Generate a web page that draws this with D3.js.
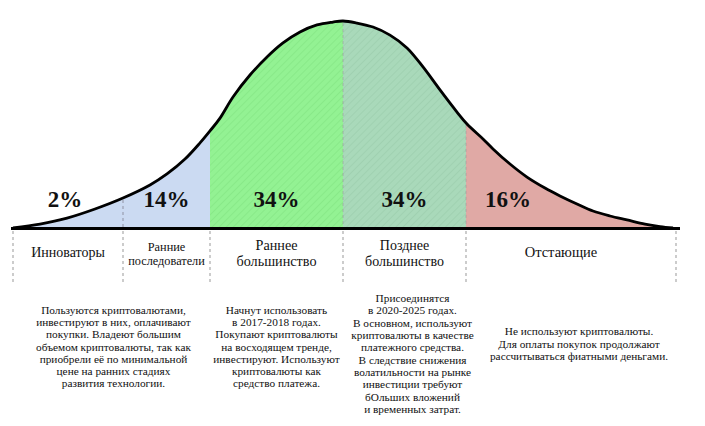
<!DOCTYPE html>
<html>
<head>
<meta charset="utf-8">
<script src="https://cdn.jsdelivr.net/npm/d3@7/dist/d3.min.js"></script>
<style>
  html, body { margin: 0; padding: 0; background: #ffffff; }
  svg { display: block; }
  text { font-family: "Liberation Serif", "Times New Roman", serif; fill: #111; }
</style>
</head>
<body>
<svg id="chart" width="705" height="426"></svg>
<script>
// ---- data ----
const categories = ["Инноваторы", "Ранние последователи", "Раннее большинство", "Позднее большинство", "Отстающие"];
const shares = [2, 14, 34, 34, 16];
const shareLabels = ["2%", "14%", "34%", "34%", "16%"];
// segment boundaries along the adoption axis (axis units 0..672)
const boundaries = [0, 110, 197, 330, 453, 663];
// bell curve: position along axis, relative height (peak = 100)
const curvePos = [0, 27, 54, 82, 110, 137, 154, 172, 187, 197, 207, 220, 237, 254, 270, 287, 304, 320, 330, 344, 360, 377, 394, 410, 427, 444, 454, 470, 480, 497, 514, 532, 547, 564, 580, 597, 614, 632, 647, 660];
const curveVal = [0, 1.9, 4.8, 9.2, 14.5, 20.8, 26.1, 33.3, 41.1, 46.9, 53.1, 63.3, 73.9, 82.6, 89.4, 94.7, 98.1, 99.5, 100, 99.0, 97.1, 93.2, 87.0, 77.8, 66.7, 56.0, 50.2, 43.0, 38.2, 30.9, 24.6, 19.3, 15.5, 11.6, 8.2, 5.8, 3.9, 1.9, 0.7, 0];
const categoryLines = [["Инноваторы"], ["Ранние", "последователи"], ["Раннее", "большинство"], ["Позднее", "большинство"], ["Отстающие"]];
const descriptions = [
  ["Пользуются криптовалютами,", "инвестируют в них, оплачивают", "покупки. Владеют большим", "объемом криптовалюты, так как", "приобрели её по минимальной", "цене на ранних стадиях", "развития технологии."],
  ["Начнут использовать", "в 2017-2018 годах.", "Покупают криптовалюты", "на восходящем тренде,", "инвестируют. Используют", "криптовалюты как", "средство платежа."],
  ["Присоединятся", "в 2020-2025 годах.", "В основном, используют", "криптовалюты в качестве", "платежного средства.", "В следствие снижения", "волатильности на рынке", "инвестиции требуют", "бОльших вложений", "и временных затрат."],
  ["Не используют криптовалюты.", "Для оплаты покупок продолжают", "рассчитываться фиатными деньгами."]
];

// ---- drawing ----
const svg = d3.select("#chart");
const x = d3.scaleLinear().domain([0, 672]).range([13, 685]);
const y = d3.scaleLinear().domain([0, 100]).range([228, 21]);
const pts = curvePos.map((p, i) => [p, curveVal[i]]);

const defs = svg.append("defs");
function hatch(id, bg, line) {
  const p = defs.append("pattern").attr("id", id).attr("patternUnits", "userSpaceOnUse")
    .attr("width", 5).attr("height", 5).attr("patternTransform", "rotate(45)");
  p.append("rect").attr("width", 5).attr("height", 5).attr("fill", bg);
  p.append("line").attr("x1", 0).attr("y1", 0).attr("x2", 0).attr("y2", 5)
    .attr("stroke", line).attr("stroke-width", 1.5);
}
hatch("hatchGreen", "#93f293", "#86e686");
hatch("hatchTeal", "#a9d9ba", "#9dcfae");

const segFill = ["#cbdaf2", "#cbdaf2", "url(#hatchGreen)", "url(#hatchTeal)", "#e0a9a5"];
boundaries.slice(0, -1).forEach((b, i) => {
  defs.append("clipPath").attr("id", "clip" + i)
    .append("rect").attr("x", x(b)).attr("y", 0)
    .attr("width", x(boundaries[i + 1]) - x(b)).attr("height", 240);
});

const area = d3.area().x(d => x(d[0])).y0(y(0)).y1(d => y(d[1])).curve(d3.curveCatmullRom);
const line = d3.line().x(d => x(d[0])).y(d => y(d[1])).curve(d3.curveCatmullRom);

shares.forEach((s, i) => {
  svg.append("path").datum(pts).attr("d", area)
    .attr("fill", segFill[i]).attr("clip-path", `url(#clip${i})`);
});

// inner dashed dividers
const inner = [1, 3, 4];
inner.forEach(i => {
  const b = boundaries[i];
  const k = d3.bisector(d => d[0]).left(pts, b);
  const p0 = pts[Math.max(0, k - 1)], p1 = pts[k];
  const v = p0[1] + (p1[1] - p0[1]) * ((b - p0[0]) / ((p1[0] - p0[0]) || 1));
  svg.append("line").attr("x1", x(b)).attr("x2", x(b)).attr("y1", y(v) + 2).attr("y2", y(0))
    .attr("stroke", i === 1 ? "#8a8a9a" : "#999").attr("stroke-opacity", i === 1 ? 0.9 : 0.6)
    .attr("stroke-width", 1).attr("stroke-dasharray", "3,3");
});

// dashed ticks below axis
boundaries.forEach(b => {
  svg.append("line").attr("x1", x(b)).attr("x2", x(b)).attr("y1", 231).attr("y2", 285)
    .attr("stroke", "#999").attr("stroke-width", 1).attr("stroke-dasharray", "3,3");
});

// curve
svg.append("path").datum(pts).attr("d", line)
  .attr("fill", "none").attr("stroke", "#000").attr("stroke-width", 2.8);

// baseline
svg.append("line").attr("x1", 11).attr("x2", 680).attr("y1", 228.5).attr("y2", 228.5)
  .attr("stroke", "#000").attr("stroke-width", 3);

// percentage labels
const mids = boundaries.slice(0, -1).map((b, i) => (b + boundaries[i + 1]) / 2);
const pctPos = mids.map((m, i) => i === 4 ? boundaries[4] + 0.2 * (boundaries[5] - boundaries[4]) : m);
shareLabels.forEach((t, i) => {
  svg.append("text").attr("x", x(pctPos[i]) + (i === 0 ? -3 : 0)).attr("y", 207)
    .attr("text-anchor", "middle").attr("font-size", 23).attr("font-weight", "bold").text(t);
});

// category labels
const catSize = [14, 12.3, 14.2, 14, 14.5];
categoryLines.forEach((ls, i) => {
  const cx = x(mids[i]) + (i === 4 ? -10 : 0);
  const lh = catSize[i] + 1.5;
  const y0 = 257 - (ls.length - 1) * lh / 2 + (ls.length > 1 ? 1 : 0);
  ls.forEach((l, j) => {
    svg.append("text").attr("x", cx).attr("y", y0 + j * lh)
      .attr("text-anchor", "middle").attr("font-size", catSize[i]).text(l);
  });
});

// descriptions
const descCenterX = [x((boundaries[0] + boundaries[2]) / 2) + 2, x(mids[2]), x(mids[3]) + 8, x(mids[4]) + 8];
const descCenterY = [347, 347, 354, 344];
const lhD = 12.3;
descriptions.forEach((ls, i) => {
  const y0 = descCenterY[i] - (ls.length - 1) * lhD / 2 + 3.5;
  ls.forEach((l, j) => {
    svg.append("text").attr("x", descCenterX[i]).attr("y", y0 + j * lhD)
      .attr("text-anchor", "middle").attr("font-size", 11.3).text(l);
  });
});
</script>
</body>
</html>
